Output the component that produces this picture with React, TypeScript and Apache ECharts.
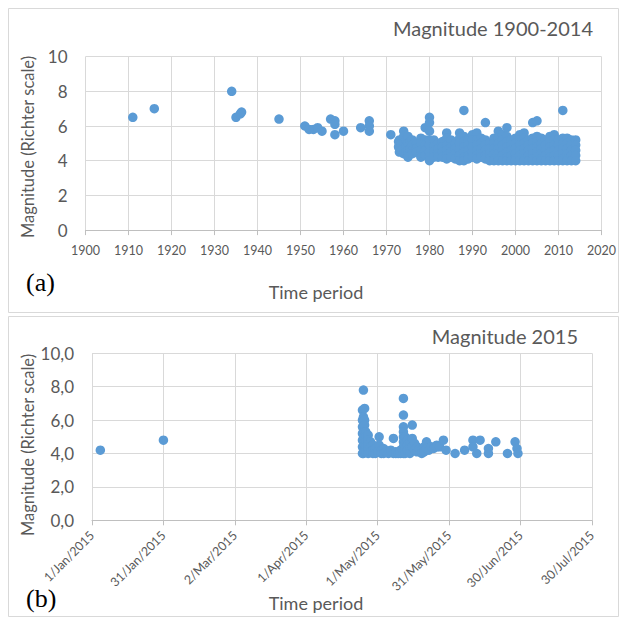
import React, { useEffect, useRef } from "react";
import * as echarts from "echarts";

// ---- Panel (a): Magnitude 1900-2014 ----
const titleA = "Magnitude 1900-2014";
const yearTicksA = [1900, 2020, 10];
const magTicks = [0, 10, 2];
const earlyEventsA: [number, number][] = [
  [1911, 6.5], [1916, 7.0], [1934, 8.0], [1935, 6.5], [1936, 6.7], [1936.3, 6.8],
  [1945, 6.4], [1951, 6.0], [1952, 5.8], [1953, 5.8], [1954, 5.9], [1955, 5.7],
  [1957, 6.4], [1958, 6.3], [1958, 6.1], [1958, 5.5], [1960, 5.7], [1964, 5.9],
  [1966, 6.3], [1966, 6.0], [1966, 5.7], [1971, 5.5],
];
// dense record 1973-2014: year -> magnitudes
const clusterA: [number, number[]][] = [
  [1972.8, [5.1, 4.8]],
  [1973, [5.2, 4.9, 4.7, 4.5]],
  [1973.5, [5.0, 4.6]],
  [1974, [5.7, 5.4, 5.0, 4.7, 4.4]],
  [1974.5, [5.2, 4.8, 4.5]],
  [1975, [5.4, 5.0, 4.6, 4.3, 4.2]],
  [1975.5, [5.1, 4.7]],
  [1976, [5.2, 4.9, 4.6, 4.4]],
  [1977, [5.0, 4.7, 4.5]],
  [1978, [5.3, 5.0, 4.6, 4.3, 4.2]],
  [1979, [5.9, 5.2, 4.9, 4.6, 4.3]],
  [1980, [6.5, 6.2, 5.7, 5.2, 4.9, 4.5, 4.2, 4.0]],
  [1981, [5.2, 4.8, 4.5, 4.2]],
  [1982, [5.0, 4.7, 4.4, 4.2]],
  [1983, [5.1, 4.8, 4.5, 4.2]],
  [1984, [5.6, 5.3, 4.9, 4.6, 4.3, 4.1]],
  [1985, [5.2, 4.8, 4.5, 4.2]],
  [1986, [5.0, 4.7, 4.4, 4.1]],
  [1987, [5.6, 5.3, 5.0, 4.6, 4.3, 4.0]],
  [1988, [6.9, 5.4, 5.1, 4.8, 4.5, 4.2, 4.0]],
  [1989, [5.2, 4.9, 4.6, 4.3, 4.1]],
  [1990, [5.5, 5.2, 4.8, 4.5, 4.2]],
  [1991, [5.6, 5.2, 4.9, 4.6, 4.3, 4.1]],
  [1992, [5.3, 5.0, 4.7, 4.4, 4.2]],
  [1993, [6.2, 5.2, 4.9, 4.6, 4.3, 4.1]],
  [1994, [5.0, 4.7, 4.4, 4.1, 4.0]],
  [1995, [5.3, 5.0, 4.7, 4.4, 4.1, 4.0]],
  [1996, [5.7, 5.3, 5.0, 4.7, 4.4, 4.1, 4.0]],
  [1997, [5.5, 5.2, 4.9, 4.6, 4.3, 4.0]],
  [1998, [5.9, 5.4, 5.1, 4.8, 4.5, 4.2, 4.0]],
  [1999, [5.2, 4.9, 4.6, 4.3, 4.0]],
  [2000, [5.3, 5.0, 4.7, 4.4, 4.1, 4.0]],
  [2001, [5.5, 5.2, 4.9, 4.6, 4.3, 4.0]],
  [2002, [5.6, 5.3, 5.0, 4.7, 4.4, 4.1, 4.0]],
  [2003, [5.2, 4.9, 4.6, 4.3, 4.0]],
  [2004, [6.2, 5.3, 5.0, 4.7, 4.4, 4.1, 4.0]],
  [2005, [6.3, 5.4, 5.1, 4.8, 4.5, 4.2, 4.0]],
  [2006, [5.3, 5.0, 4.7, 4.4, 4.1, 4.0]],
  [2007, [5.2, 4.9, 4.6, 4.3, 4.0]],
  [2008, [5.4, 5.1, 4.8, 4.5, 4.2, 4.0]],
  [2009, [5.5, 5.2, 4.9, 4.6, 4.3, 4.0]],
  [2010, [5.2, 4.9, 4.6, 4.3, 4.0]],
  [2011, [6.9, 5.3, 5.0, 4.7, 4.4, 4.1, 4.0]],
  [2012, [5.3, 5.0, 4.7, 4.4, 4.1, 4.0]],
  [2013, [5.2, 4.9, 4.6, 4.3, 4.0]],
  [2014, [5.2, 4.9, 4.6, 4.3, 4.0]],
];

// ---- Panel (b): Magnitude 2015 (x = days since 1 Jan 2015) ----
const titleB = "Magnitude 2015";
const dayTicksB = [0, 210, 30];
const eventsB: [number, number[]][] = [
  [3.5, [4.2]],
  [30, [4.8]],
  [113.6, [6.6, 6.0, 5.6, 5.2, 4.8, 4.4, 4.0]],
  [114, [7.8, 6.2, 5.9, 5.5, 5.1, 4.7, 4.3, 4.0]],
  [114.5, [6.7, 6.0, 5.7, 5.3, 4.9, 4.5, 4.1]],
  [115, [5.3, 5.0, 4.7, 4.4, 4.1]],
  [116, [5.1, 4.8, 4.5, 4.2, 4.0]],
  [117, [4.7, 4.4, 4.1]],
  [118, [4.5, 4.2, 4.0]],
  [119, [4.3, 4.0]],
  [120, [4.1]],
  [120.6, [5.0, 4.5]],
  [121.5, [4.2, 4.0]],
  [122.5, [4.3, 4.0]],
  [123.5, [4.1]],
  [124.5, [4.0]],
  [125.5, [4.2]],
  [126.6, [4.9, 4.0]],
  [127.6, [4.1, 4.0]],
  [128.6, [4.0]],
  [129.6, [4.2, 4.0]],
  [130.8, [7.3, 6.3, 5.6, 5.3, 5.0, 4.7, 4.4, 4.1, 4.0]],
  [131.5, [5.0, 4.6, 4.3, 4.0]],
  [132.5, [4.8, 4.5, 4.2]],
  [133.5, [4.6, 4.3, 4.0]],
  [134.5, [5.7, 4.9, 4.4]],
  [135.5, [4.6, 4.2]],
  [136.5, [4.4, 4.1]],
  [137.5, [4.3]],
  [138.5, [4.2, 4.0]],
  [139.5, [4.4, 4.1]],
  [140.5, [4.7, 4.3]],
  [141.5, [4.2]],
  [142.5, [4.4]],
  [143.5, [4.3]],
  [144.8, [4.5, 4.4]],
  [146, [4.4]],
  [147.6, [4.8]],
  [148.7, [4.2]],
  [152.5, [4.0]],
  [156.5, [4.2]],
  [160, [4.8, 4.4]],
  [161.6, [4.0]],
  [163, [4.8]],
  [166.5, [4.3, 4.0]],
  [169.6, [4.7]],
  [174.5, [4.0]],
  [177.7, [4.7]],
  [178.5, [4.3]],
  [178.9, [4.0]],
];

const MONTHS = ["Jan", "Feb", "Mar", "Apr", "May", "Jun", "Jul", "Aug", "Sep", "Oct", "Nov", "Dec"];
const dayLabel = (v: number) => {
  const d = new Date(Date.UTC(2015, 0, 1) + v * 86400000);
  return `${d.getUTCDate()}/${MONTHS[d.getUTCMonth()]}/${d.getUTCFullYear()}`;
};

const expand = (groups: [number, number[]][]) => {
  const out: [number, number][] = [];
  groups.forEach(([x, ys]) => ys.forEach((y) => out.push([x, y])));
  return out;
};

const FONT = "Lato";
const TXT = "#595959";
const GRID = "#d9d9d9";
const AXIS = "#bfbfbf";
const BLUE = "#5b9bd5";

export default function App() {
  const ref = useRef<HTMLDivElement>(null);
  useEffect(() => {
    if (!ref.current) return;
    const chart = echarts.init(ref.current, undefined, { renderer: "svg" });
    const xBase = (gi: number) => ({
      type: "value" as const,
      gridIndex: gi,
      axisLine: { show: true, onZero: false, lineStyle: { color: AXIS, width: 1 } },
      axisTick: { show: true, length: 5, lineStyle: { color: AXIS } },
      splitLine: { show: true, lineStyle: { color: GRID, width: 1 } },
    });
    const yBase = (gi: number) => ({
      type: "value" as const,
      gridIndex: gi,
      min: magTicks[0],
      max: magTicks[1],
      interval: magTicks[2],
      axisLine: { show: false },
      axisTick: { show: false },
      splitLine: { show: true, lineStyle: { color: GRID, width: 1 } },
    });
    const option = {
      animation: false,
      backgroundColor: "#ffffff",
      textStyle: { fontFamily: FONT },
      grid: [
        { left: 85.5, top: 56.6, width: 516, height: 173.5 },
        { left: 92, top: 353.3, width: 500, height: 167 },
      ],
      xAxis: [
        {
          ...xBase(0),
          min: yearTicksA[0],
          max: yearTicksA[1],
          interval: yearTicksA[2],
          axisLabel: { color: TXT, fontSize: 12.5, fontFamily: FONT, margin: 14, formatter: (v: number) => String(v) },
        },
        {
          ...xBase(1),
          min: dayTicksB[0],
          max: dayTicksB[1],
          interval: dayTicksB[2],
          axisLabel: {
            color: TXT,
            fontSize: 12.5,
            fontFamily: FONT,
            rotate: 45,
            margin: 13,
            formatter: (v: number) => dayLabel(v),
          },
        },
      ],
      yAxis: [
        {
          ...yBase(0),
          axisLabel: { color: TXT, fontSize: 17, fontFamily: FONT, margin: 18 },
        },
        {
          ...yBase(1),
          axisLabel: {
            color: TXT,
            fontSize: 17,
            fontFamily: FONT,
            margin: 18,
            formatter: (v: number) => v.toFixed(1).replace(".", ","),
          },
        },
      ],
      series: [
        {
          type: "scatter",
          xAxisIndex: 0,
          yAxisIndex: 0,
          symbolSize: 9.5,
          itemStyle: { color: BLUE, opacity: 1 },
          data: [...earlyEventsA, ...expand(clusterA)],
        },
        {
          type: "scatter",
          xAxisIndex: 1,
          yAxisIndex: 1,
          symbolSize: 9.5,
          itemStyle: { color: BLUE, opacity: 1 },
          data: expand(eventsB),
        },
      ],
      graphic: [
        { type: "rect", shape: { x: 8.5, y: 8.5, width: 610, height: 304 }, style: { fill: "none", stroke: GRID, lineWidth: 1 }, z: -10 },
        { type: "rect", shape: { x: 8.5, y: 316.5, width: 610, height: 300 }, style: { fill: "none", stroke: GRID, lineWidth: 1 }, z: -10 },
        { type: "text", x: 593, y: 28, style: { text: titleA, fill: TXT, font: `20px ${FONT}`, textAlign: "right", textVerticalAlign: "middle" } },
        { type: "text", x: 578, y: 336, style: { text: titleB, fill: TXT, font: `20px ${FONT}`, textAlign: "right", textVerticalAlign: "middle" } },
        { type: "text", x: 316, y: 292, style: { text: "Time period", fill: TXT, font: `18px ${FONT}`, textAlign: "center", textVerticalAlign: "middle" } },
        { type: "text", x: 316, y: 603, style: { text: "Time period", fill: TXT, font: `18px ${FONT}`, textAlign: "center", textVerticalAlign: "middle" } },
        { type: "text", x: 28, y: 147, rotation: Math.PI / 2, style: { text: "Magnitude (Richter scale)", fill: TXT, font: `16.5px ${FONT}`, textAlign: "center", textVerticalAlign: "middle" } },
        { type: "text", x: 28, y: 445, rotation: Math.PI / 2, style: { text: "Magnitude (Richter scale)", fill: TXT, font: `16.5px ${FONT}`, textAlign: "center", textVerticalAlign: "middle" } },
        { type: "text", x: 26, y: 282, style: { text: "(a)", fill: "#000000", font: `26px "Liberation Serif"`, textAlign: "left", textVerticalAlign: "middle" } },
        { type: "text", x: 26, y: 598, style: { text: "(b)", fill: "#000000", font: `26px "Liberation Serif"`, textAlign: "left", textVerticalAlign: "middle" } },
      ],
    };
    chart.setOption(option as any);
    return () => chart.dispose();
  }, []);
  return <div ref={ref} style={{ position: "absolute", left: 0, top: 0, width: 624, height: 618 }} />;
}
